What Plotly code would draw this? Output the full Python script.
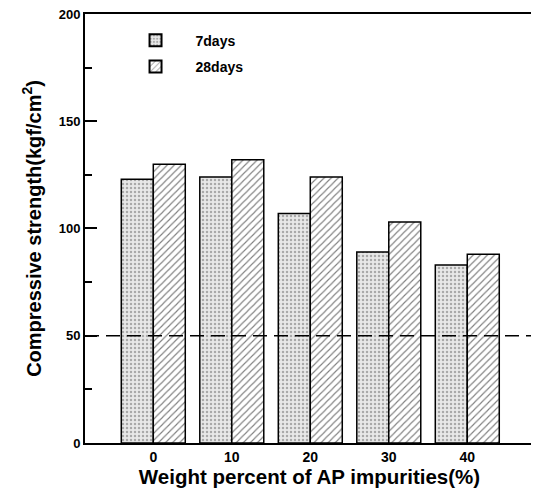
import plotly.graph_objects as go

categories = [0, 10, 20, 30, 40]
tick_labels = ["0", "10", "20", "30", "40"]
days7 = [123, 124, 107, 89, 83]
days28 = [130, 132, 124, 103, 88]
ref_line = 50
label_ticks = [0, 50, 100, 150, 200]
major_marks = [50.01, 100.01, 150.01]
minor_marks = [25, 75, 125, 175]

FONT = "Liberation Sans, Arial"

fig = go.Figure()
fig.add_trace(go.Bar(
    x=categories, y=days7, name="7days", legendgroup="a",
    marker=dict(color="#e0e0e0", line=dict(color="black", width=1.5),
                pattern=dict(shape=".", fgcolor="#6a6a6a", bgcolor="#e8e8e8",
                             size=4, solidity=0.3)),
))
fig.add_trace(go.Bar(
    x=categories, y=days28, name="28days", legendgroup="b",
    marker=dict(color="white", line=dict(color="black", width=1.5),
                pattern=dict(shape="/", fgcolor="black", bgcolor="white",
                             size=5, solidity=0.22)),
))
fig.add_trace(go.Scatter(x=[None], y=[None], yaxis="y2", showlegend=False, hoverinfo="skip"))
fig.add_trace(go.Scatter(x=[None], y=[None], yaxis="y3", showlegend=False, hoverinfo="skip"))

fig.add_shape(type="line", xref="paper", x0=0, x1=1, yref="y", y0=ref_line, y1=ref_line,
              line=dict(color="black", width=1.5, dash="14px,7px"), layer="above")

fig.update_layout(
    width=531, height=488,
    margin=dict(l=77, r=5, t=6, b=53),
    paper_bgcolor="white", plot_bgcolor="white",
    barmode="group", bargap=0.185, bargroupgap=0,
    font=dict(family=FONT, size=13, color="black", weight="bold"),
    showlegend=True,
    legend=dict(x=0.068, y=0.975, xanchor="left", yanchor="top",
                bgcolor="rgba(0,0,0,0)", font=dict(size=14, family=FONT, weight="bold"),
                itemwidth=70, itemsizing="constant", tracegroupgap=5),
    xaxis=dict(range=[-8.7, 48.5], tickvals=categories, ticktext=tick_labels,
               showline=True, linecolor="black", linewidth=2, mirror=True,
               ticks="", showgrid=False, zeroline=False, automargin=False,
               tickfont=dict(size=14, family=FONT, weight="bold"),
               title=dict(text="Weight percent of AP impurities(%)", standoff=4,
                          font=dict(size=20.5, family=FONT, weight="bold"))),
    yaxis=dict(range=[0, 200], tickmode="array", tickvals=label_ticks,
               showline=True, linecolor="black", linewidth=2, mirror=True,
               ticks="", ticklabeloverflow="allow",
               showgrid=False, zeroline=False, automargin=False,
               tickfont=dict(size=13, family=FONT, weight="bold"),
               title=dict(text="Compressive strength(kgf/cm<sup>2</sup>)", standoff=12,
                          font=dict(size=20, family=FONT, weight="bold"))),
    yaxis2=dict(range=[0, 200], overlaying="y", side="left", tickmode="array",
                tickvals=minor_marks, ticks="inside", ticklen=7, tickwidth=2,
                tickcolor="black", showticklabels=False, showline=False,
                showgrid=False, zeroline=False, automargin=False),
    yaxis3=dict(range=[0, 200], overlaying="y", side="left", tickmode="array",
                tickvals=major_marks, ticks="inside", ticklen=12, tickwidth=2,
                tickcolor="black", showticklabels=False, showline=False,
                showgrid=False, zeroline=False, automargin=False),
)

fig.write_html("out.html")
